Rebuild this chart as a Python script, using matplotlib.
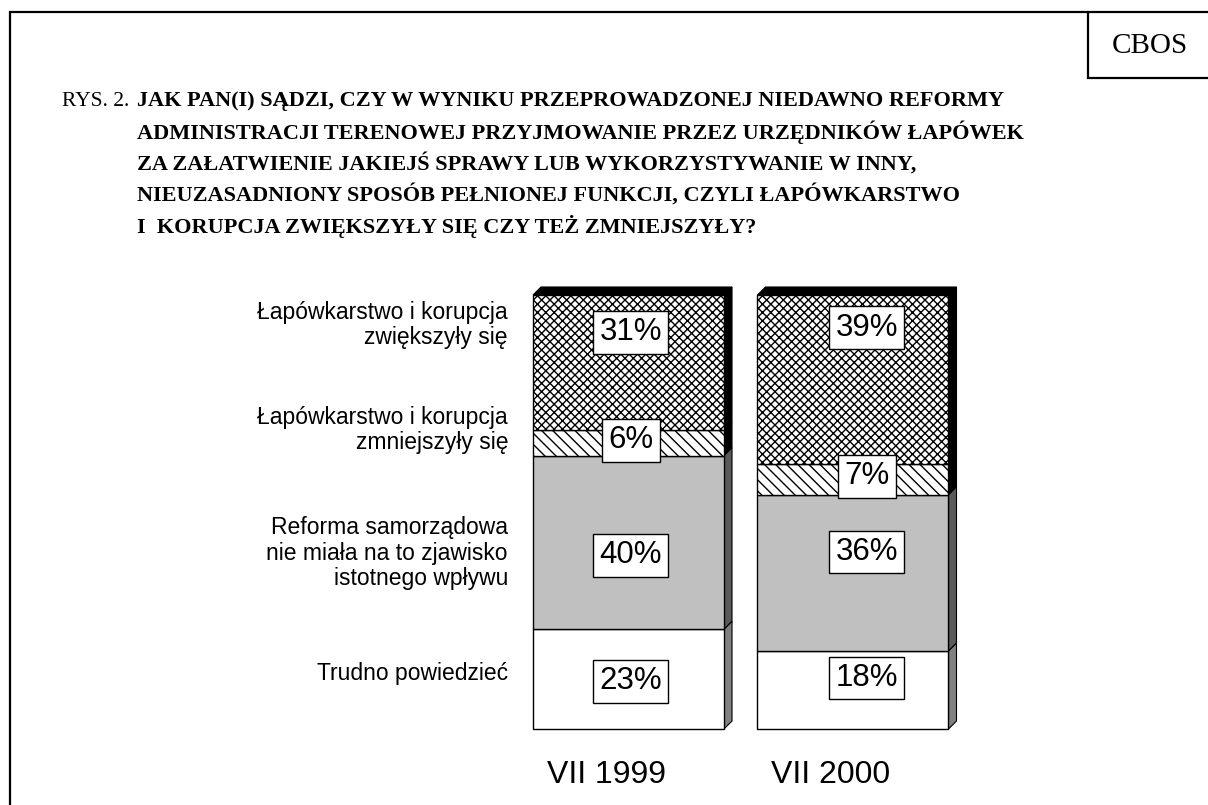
import numpy as np
import matplotlib
matplotlib.use("Agg")
from matplotlib import pyplot as plt

# dane
okresy = ['VII 1999', 'VII 2000']
kategorie = ['Trudno powiedzieć',
             'Reforma samorządowa\nnie miała na to zjawisko\nistotnego wpływu',
             'Łapówkarstwo i korupcja\nzmniejszyły się',
             'Łapówkarstwo i korupcja\nzwiększyły się']
w_1999 = [23, 40, 6, 31]
w_2000 = [18, 36, 7, 39]

# styl segmentow (od dolu)
kolory = ['white', '#c0c0c0', 'white', 'white']
boki = ['#808080', '#5a5a5a', 'black', 'black']
kreskowanie = [None, None, '\\\\\\', 'xxxx']
# przesuniecia etykiet (w %) i pozycje opisow po lewej (piksele)
dy_1999 = [-0.5, -3.0, 0.5, 6.9]
dy_2000 = [2.8, 4.8, 0.7, 12.0]
dx_etyk = [0.01, 0.062]
opis_y = [673, 553, 430, 325]

W, H = 1208, 805
plt.rcParams['font.family'] = ['Liberation Sans', 'DejaVu Sans']
plt.rcParams['hatch.linewidth'] = 1.0

fig = plt.figure(figsize=(W / 100, H / 100), dpi=100)
bg = fig.add_axes([0, 0, 1, 1])
bg.set_xlim(0, W)
bg.set_ylim(H, 0)
bg.axis('off')

# ramka
bg.plot([10, 10, 1088], [H, 12, 12], color='black', lw=1.6, solid_joinstyle='miter')
bg.plot([W, 1088, 1088, W], [12, 12, 78, 78], color='black', lw=1.6, solid_joinstyle='miter')
bg.text(1150, 46, 'CBOS', family='Liberation Serif', fontsize=21, ha='center', va='center')

# tytul
tytul = ['JAK PAN(I) SĄDZI, CZY W WYNIKU PRZEPROWADZONEJ NIEDAWNO REFORMY',
         'ADMINISTRACJI TERENOWEJ PRZYJMOWANIE PRZEZ URZĘDNIKÓW ŁAPÓWEK',
         'ZA ZAŁATWIENIE JAKIEJŚ SPRAWY LUB WYKORZYSTYWANIE W INNY,',
         'NIEUZASADNIONY SPOSÓB PEŁNIONEJ FUNKCJI, CZYLI ŁAPÓWKARSTWO',
         'I  KORUPCJA ZWIĘKSZYŁY SIĘ CZY TEŻ ZMNIEJSZYŁY?']
bg.text(62, 101, 'RYS. 2.', family='Liberation Serif', fontsize=15.5, ha='left', va='center')
for i, linia in enumerate(tytul):
    bg.text(137, 101 + i * 31.3, linia, family='Liberation Serif', fontweight='bold',
            fontsize=16, ha='left', va='center')

# opisy kategorii
for k, yy in zip(kategorie, opis_y):
    bg.text(508, yy, k, fontsize=16.5, ha='right', va='center', multialignment='right',
            linespacing=1.15)

# wykres
ax = fig.add_axes([500 / W, (H - 729) / H, 500 / W, 434 / H])
ax.patch.set_alpha(0)
ax.axis('off')
x0, x1 = -0.5724, 1.6548
ax.set_xlim(x0, x1)
ax.set_ylim(0, 100)
px_x = 500 / (x1 - x0)
px_y = 434 / 100
ddx, ddy = 8 / px_x, 8 / px_y
szer = 191 / px_x

x = np.arange(len(okresy))
for j, (serie, dys) in enumerate([(w_1999, dy_1999), (w_2000, dy_2000)]):
    dol = 0
    for i, v in enumerate(serie):
        ax.bar(x[j], v, bottom=dol, width=szer, color=kolory[i], edgecolor='black',
               hatch=kreskowanie[i], linewidth=1.0, zorder=2)
        xr = x[j] + szer / 2
        ax.fill([xr, xr + ddx, xr + ddx, xr],
                [dol, dol + ddy, dol + v + ddy, dol + v],
                facecolor=boki[i], edgecolor='black', linewidth=0.8, zorder=1)
        ax.text(x[j] + dx_etyk[j], dol + v / 2 + dys[i], f'{v}%', fontsize=22.5,
                ha='center', va='center', zorder=4,
                bbox=dict(boxstyle='square,pad=0.2', facecolor='white',
                          edgecolor='black', linewidth=1.0))
        dol += v
    xl = x[j] - szer / 2
    ax.fill([xl, xl + ddx, xr + ddx, xr], [100, 100 + ddy, 100 + ddy, 100],
            facecolor='black', edgecolor='black', linewidth=0.8, zorder=1)

for j, o in enumerate(okresy):
    bg.text(628.5 + j * 224.5 - 22, 775, o, fontsize=23, ha='center', va='center')

for a in ax.get_children():
    try:
        a.set_clip_on(False)
    except Exception:
        pass

fig.savefig('out.png', dpi=100)
